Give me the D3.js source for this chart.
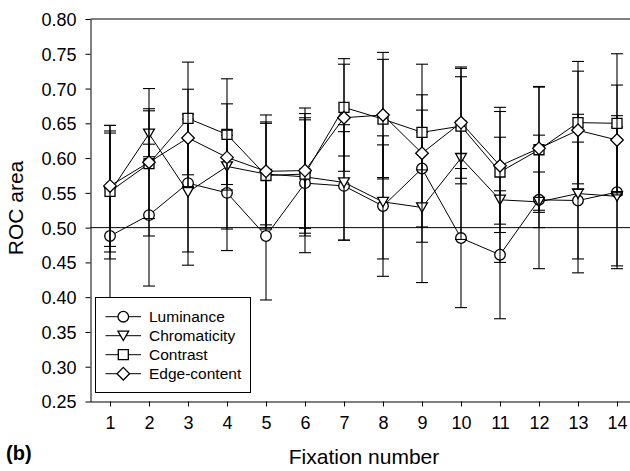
<!DOCTYPE html>
<html>
<head>
<meta charset="utf-8">
<script src="https://cdn.jsdelivr.net/npm/d3@7"></script>
<style>
  body { margin: 0; background: #fff; }
  svg { display: block; font-family: "Liberation Sans", Arial, sans-serif; }
</style>
</head>
<body>
<svg id="chart"></svg>
<script>
// Fixation numbers on the x axis
const fixations = [1, 2, 3, 4, 5, 6, 7, 8, 9, 10, 11, 12, 13, 14];

// Mean ROC area per fixation, with error bar half-widths
const luminance = [0.488, 0.518, 0.564, 0.550, 0.488, 0.564, 0.560, 0.531, 0.585, 0.485, 0.461, 0.540, 0.539, 0.551];
const luminanceErr = [0.148, 0.102, 0.099, 0.083, 0.092, 0.100, 0.078, 0.101, 0.084, 0.100, 0.092, 0.040, 0.084, 0.110];

const chromaticity = [0.551, 0.635, 0.551, 0.588, 0.577, 0.573, 0.565, 0.537, 0.529, 0.600, 0.540, 0.537, 0.549, 0.545];
const chromaticityErr = [0.096, 0.033, 0.105, 0.090, 0.073, 0.085, 0.083, 0.082, 0.108, 0.117, 0.090, 0.096, 0.114, 0.100];

const contrast = [0.552, 0.592, 0.657, 0.634, 0.575, 0.577, 0.673, 0.656, 0.637, 0.646, 0.580, 0.612, 0.651, 0.650];
const contrastErr = [0.087, 0.079, 0.081, 0.080, 0.077, 0.078, 0.070, 0.086, 0.054, 0.083, 0.087, 0.090, 0.088, 0.100];

const edgeContent = [0.560, 0.594, 0.629, 0.601, 0.581, 0.582, 0.658, 0.662, 0.607, 0.651, 0.589, 0.614, 0.640, 0.626];
const edgeContentErr = [0.087, 0.106, 0.070, 0.039, 0.081, 0.090, 0.077, 0.090, 0.128, 0.080, 0.084, 0.089, 0.085, 0.079];

// y axis tick values
const yTicks = [0.25, 0.30, 0.35, 0.40, 0.45, 0.50, 0.55, 0.60, 0.65, 0.70, 0.75, 0.80];

// Marker shapes (open symbols, SigmaPlot style)
const markerPaths = {
  circle: "M5.3,0A5.3,5.3 0 1,1 -5.3,0A5.3,5.3 0 1,1 5.3,0Z",
  triangle: "M-5.4,-4.6L5.4,-4.6L0,4.8Z",
  square: "M-5,-5L5,-5L5,5L-5,5Z",
  diamond: "M0,-6.3L6.3,0L0,6.3L-6.3,0Z",
};

const series = [
  { name: "Luminance", values: luminance, errs: luminanceErr, marker: "circle" },
  { name: "Chromaticity", values: chromaticity, errs: chromaticityErr, marker: "triangle" },
  { name: "Contrast", values: contrast, errs: contrastErr, marker: "square" },
  { name: "Edge-content", values: edgeContent, errs: edgeContentErr, marker: "diamond" },
];

const width = 630;
const height = 471;
const plotLeft = 90.5;
const plotTop = 19;
const plotBottom = 401.5;

const svg = d3.select("#chart").attr("width", width).attr("height", height);

svg.append("rect").attr("width", width).attr("height", height).attr("fill", "#fff");

// Scales: x runs half a step past each end, right side is cut by the image edge
const x = d3.scaleLinear().domain([0.5, 14.5]).range([plotLeft, 636.5]);
const y = d3.scaleLinear().domain([0.25, 0.8]).range([plotBottom, plotTop]);

// Top border line
svg.append("line")
  .attr("x1", plotLeft).attr("x2", width)
  .attr("y1", plotTop).attr("y2", plotTop)
  .attr("stroke", "#000").attr("stroke-width", 1);

// Reference line at chance level
svg.append("line")
  .attr("x1", plotLeft).attr("x2", width)
  .attr("y1", y(0.5)).attr("y2", y(0.5))
  .attr("stroke", "#000").attr("stroke-width", 1);

// Axes
const xAxis = svg.append("g")
  .attr("transform", `translate(0,${plotBottom})`)
  .call(d3.axisBottom(x).tickValues(fixations).tickSize(5).tickPadding(10).tickSizeOuter(0));
xAxis.select(".domain").attr("d", `M${plotLeft},0.5H${width}`);

const yAxis = svg.append("g")
  .attr("transform", `translate(${plotLeft},0)`)
  .call(d3.axisLeft(y).tickValues(yTicks).tickFormat(d3.format(".2f")).tickSize(5).tickPadding(9).tickSizeOuter(0));

svg.selectAll(".tick text")
  .style("font-family", "'Liberation Sans', Arial, sans-serif")
  .style("font-size", "18px")
  .attr("fill", "#000");
yAxis.selectAll(".tick text").attr("dy", "0.36em");
svg.selectAll(".domain, .tick line").attr("stroke", "#000");

// Draw each series: line, error bars, then markers
const line = d3.line()
  .x((d, i) => x(fixations[i]))
  .y((d) => y(d));

series.forEach((s) => {
  const g = svg.append("g");

  g.append("path")
    .datum(s.values)
    .attr("d", line)
    .attr("fill", "none")
    .attr("stroke", "#000")
    .attr("stroke-width", 1);

  const bars = g.selectAll(".err")
    .data(s.values.map((v, i) => ({ fx: fixations[i], v: v, e: s.errs[i] })))
    .enter()
    .append("g")
    .attr("stroke", "#000")
    .attr("stroke-width", 1.1);

  bars.append("line")
    .attr("x1", (d) => x(d.fx)).attr("x2", (d) => x(d.fx))
    .attr("y1", (d) => y(d.v - d.e)).attr("y2", (d) => y(d.v + d.e));
  bars.append("line")
    .attr("x1", (d) => x(d.fx) - 6).attr("x2", (d) => x(d.fx) + 6)
    .attr("y1", (d) => y(d.v + d.e)).attr("y2", (d) => y(d.v + d.e));
  bars.append("line")
    .attr("x1", (d) => x(d.fx) - 6).attr("x2", (d) => x(d.fx) + 6)
    .attr("y1", (d) => y(d.v - d.e)).attr("y2", (d) => y(d.v - d.e));

  g.selectAll(".marker")
    .data(s.values)
    .enter()
    .append("path")
    .attr("d", markerPaths[s.marker])
    .attr("transform", (d, i) => `translate(${x(fixations[i])},${y(d)})`)
    .attr("fill", "#fff")
    .attr("stroke", "#000")
    .attr("stroke-width", 1.3);
});

// Legend box
const legend = svg.append("g");
legend.append("rect")
  .attr("x", 95.5).attr("y", 297.5)
  .attr("width", 155).attr("height", 95)
  .attr("fill", "#fff").attr("stroke", "#000").attr("stroke-width", 1);

series.forEach((s, i) => {
  const ly = 316.7 + i * 19;
  legend.append("line")
    .attr("x1", 105.5).attr("x2", 141)
    .attr("y1", ly).attr("y2", ly)
    .attr("stroke", "#000").attr("stroke-width", 1);
  legend.append("path")
    .attr("d", markerPaths[s.marker])
    .attr("transform", `translate(123.3,${ly})`)
    .attr("fill", "#fff").attr("stroke", "#000").attr("stroke-width", 1.3);
  legend.append("text")
    .attr("x", 149).attr("y", ly)
    .attr("dy", "0.36em")
    .style("font-size", "15.5px")
    .text(s.name);
});

// Axis titles
svg.append("text")
  .attr("x", 364).attr("y", 464)
  .attr("text-anchor", "middle")
  .style("font-size", "21px")
  .text("Fixation number");

svg.append("text")
  .attr("transform", "translate(23,208) rotate(-90)")
  .attr("text-anchor", "middle")
  .style("font-size", "21px")
  .text("ROC area");

// Panel label
svg.append("text")
  .attr("x", 6).attr("y", 460)
  .style("font-size", "20px")
  .style("font-weight", "bold")
  .text("(b)");
</script>
</body>
</html>
